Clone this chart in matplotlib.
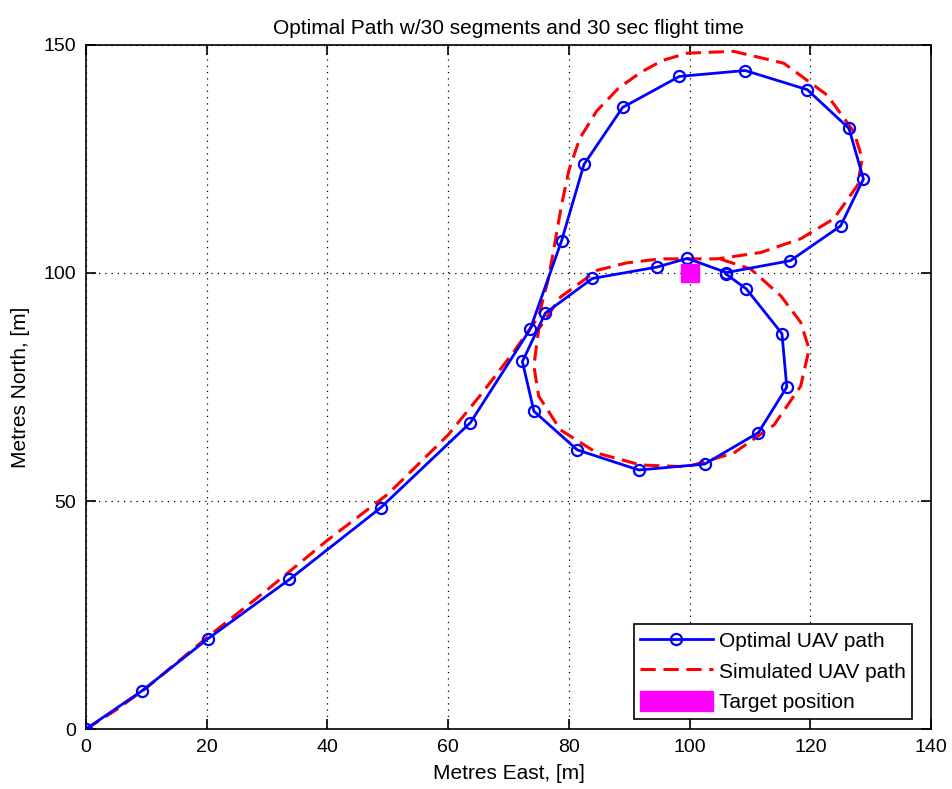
import numpy as np
import matplotlib
matplotlib.use("Agg")
import matplotlib.pyplot as plt
from matplotlib.patches import Patch
from matplotlib.lines import Line2D

plt.rcParams['font.family'] = ['Liberation Sans', 'DejaVu Sans']

# optimal path (blue circles)
opt_x = [0, 9.3, 20.2, 33.7, 48.8, 63.7, 73.6, 78.8, 82.5, 88.9, 98.3, 109.2,
         119.5, 126.4, 128.8, 125.0, 116.7, 106.1, 99.6, 94.6, 83.9, 76.1, 72.3,
         74.2, 81.4, 91.6, 102.5, 111.4, 116.1, 115.3, 109.4, 106.0]
opt_y = [0, 8.4, 19.8, 32.8, 48.5, 67.2, 87.7, 107.1, 123.8, 136.3, 143.1, 144.4,
         140.2, 131.7, 120.6, 110.3, 102.7, 100.1, 103.2, 101.3, 98.8, 91.2, 80.6,
         69.7, 61.2, 56.8, 58.1, 65.0, 75.0, 86.7, 96.5, 99.8]

# simulated path (red dashed)
sim_x = [0, 5, 10, 20, 30, 40, 50, 60, 65.7, 70.8, 75, 76.6, 77.6, 78.8, 80.0, 81.8,
         84.6, 88.2, 91.9, 95.5, 99.6, 107.3, 115.6, 122.8, 127.2, 128.6, 127.8,
         123.9, 118.4, 111.8, 104.6, 95.2, 89.5, 84.7, 78.6, 75, 74.2, 75, 78.6,
         84.7, 91.9, 99.6, 107.3, 114, 118.4, 119.8, 118.4, 115.1, 110.1, 104.5]
sim_y = [0, 4.2, 9, 20, 30.5, 41.4, 51.5, 64.5, 73.8, 82.6, 90.5, 98.7, 106, 115,
         122.5, 129.5, 135.5, 140.5, 144.0, 146.6, 148.2, 148.6, 146, 139, 131, 125.1,
         119.2, 111.9, 107.5, 104.5, 103.1, 103.1, 102.2, 100.6, 94.7, 87.7, 79.6,
         73, 65.6, 60.5, 57.9, 57.5, 60.5, 66.7, 75.2, 83.3, 89.2, 95.0, 100.9, 103.3]

target = (100, 100)

fig = plt.figure(figsize=(9.52, 7.89), dpi=100)
ax = fig.add_axes([0.0903, 0.076, 0.8877, 0.867])

ax.plot(opt_x, opt_y, '-o', color='blue', linewidth=2, markersize=8,
        markerfacecolor='none', markeredgewidth=1.6, zorder=3)
ax.plot(sim_x, sim_y, '--', color='red', linewidth=2.2, dashes=(5, 2.5), zorder=2)
ax.plot(target[0], target[1], 's', color='magenta', markersize=13, zorder=4)

ax.set_xlim(0, 140)
ax.set_ylim(0, 150)
ax.set_xticks(np.arange(0, 141, 20))
ax.set_yticks([0, 50, 100, 150])
ax.grid(True, color='black', linestyle=(0, (1, 4)), linewidth=0.9)
ax.tick_params(direction='in', top=True, right=True, length=7, width=1.2,
               labelsize=14, pad=7)
for s in ax.spines.values():
    s.set_linewidth(1.2)

ax.set_title("Optimal Path w/30 segments and 30 sec flight time", fontsize=15, pad=8)
ax.set_xlabel("Metres East, [m]", fontsize=15, labelpad=6)
ax.set_ylabel("Metres North, [m]", fontsize=15, labelpad=10)

handles = [
    Line2D([], [], color='blue', linewidth=2, marker='o', markersize=8,
           markerfacecolor='none', markeredgewidth=1.6),
    Line2D([], [], color='red', linewidth=2.2, linestyle='--', dashes=(5, 2.5)),
    Patch(facecolor='magenta', edgecolor='magenta'),
]
leg = ax.legend(handles, ["Optimal UAV path", "Simulated UAV path", "Target position"],
                loc='lower right', fontsize=15, fancybox=False, framealpha=1,
                edgecolor='black', handlelength=3.5, handleheight=1.1, borderpad=0.3,
                labelspacing=0.45, handletextpad=0.3, bbox_to_anchor=(0.99, 0.0))
leg.get_frame().set_linewidth(1.2)

fig.savefig("out.png", dpi=100)
